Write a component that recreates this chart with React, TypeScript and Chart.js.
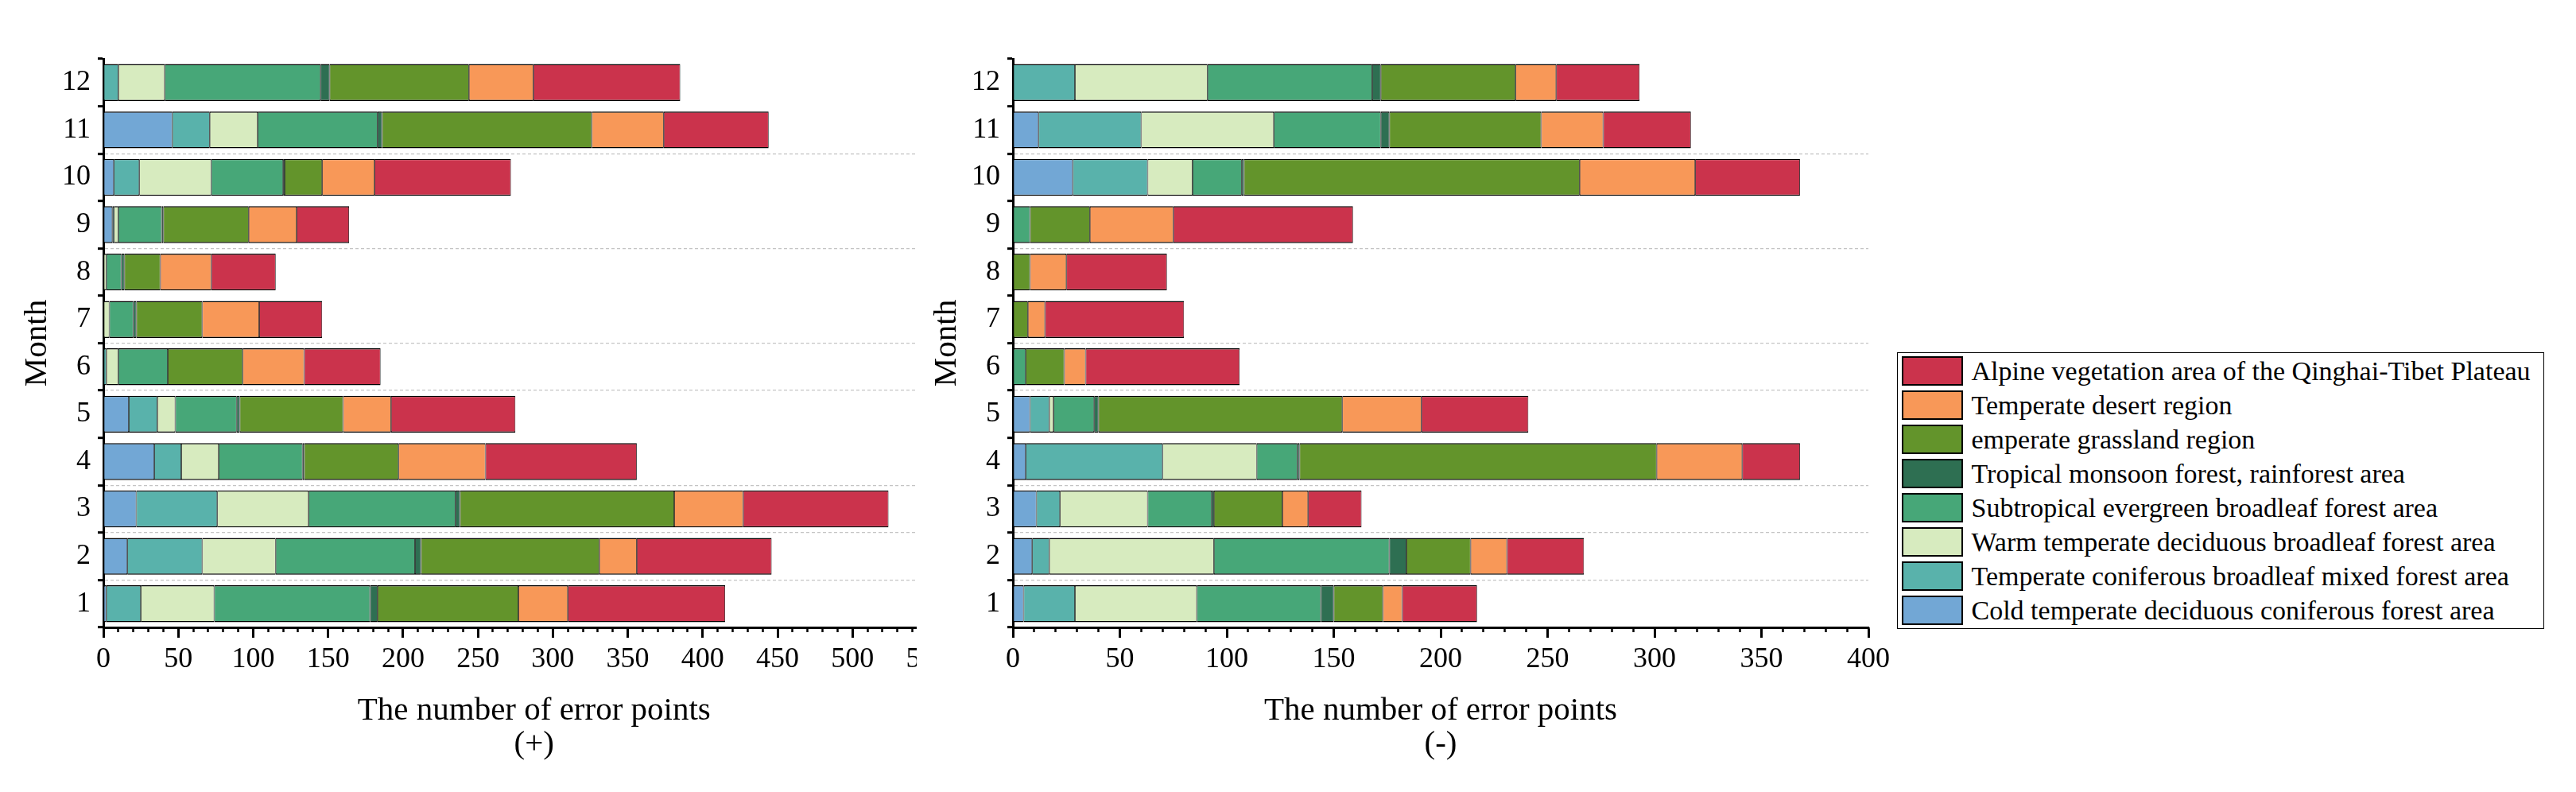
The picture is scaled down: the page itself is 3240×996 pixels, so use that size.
import React, { useEffect, useRef } from 'react';
import { Chart, registerables } from 'chart.js';

Chart.register(...registerables);

// ---------- data ----------
const months = ['1', '2', '3', '4', '5', '6', '7', '8', '9', '10', '11', '12'];

// stacking order (left to right in each bar)
const seriesLabels = [
  'Cold temperate deciduous coniferous forest area',
  'Temperate coniferous broadleaf mixed forest area',
  'Warm temperate deciduous broadleaf forest area',
  'Subtropical evergreen broadleaf forest area',
  'Tropical monsoon forest, rainforest area',
  'emperate grassland region',
  'Temperate desert region',
  'Alpine vegetation area of the Qinghai-Tibet Plateau',
];
const seriesColors = ['#72A7D5', '#59B2AB', '#D7EBBF', '#47A778', '#2E6F52', '#63942B', '#F89858', '#CB334C'];

// (+) error points, months 1..12
const plusCold = [2, 16, 22, 34, 17, 0, 0, 0, 6, 7, 46, 0];
const plusConifMixed = [23, 50, 54, 18, 19, 2, 0, 0, 1, 17, 25, 10];
const plusWarmBroadleaf = [49, 49, 61, 25, 12, 8, 4, 2, 3, 48, 32, 31];
const plusSubtropical = [104, 93, 98, 56, 41, 33, 16, 10, 29, 48, 80, 104];
const plusTropical = [5, 4, 3, 1, 2, 0, 2, 2, 1, 1, 3, 6];
const plusGrassland = [94, 119, 143, 63, 69, 50, 44, 24, 57, 25, 140, 93];
const plusDesert = [33, 25, 46, 58, 32, 41, 38, 34, 32, 35, 48, 43];
const plusAlpine = [105, 90, 97, 101, 83, 51, 42, 43, 35, 91, 70, 98];

// (-) error points, months 1..12
const minusCold = [5, 9, 11, 6, 8, 0, 0, 0, 0, 28, 12, 0];
const minusConifMixed = [24, 8, 11, 64, 9, 0, 0, 0, 0, 35, 48, 29];
const minusWarmBroadleaf = [57, 77, 41, 44, 2, 0, 0, 0, 0, 21, 62, 62];
const minusSubtropical = [58, 82, 30, 19, 19, 6, 0, 0, 8, 23, 50, 77];
const minusTropical = [6, 8, 1, 1, 2, 0, 0, 0, 0, 1, 4, 4];
const minusGrassland = [23, 30, 32, 167, 114, 18, 7, 8, 28, 157, 71, 63];
const minusDesert = [9, 17, 12, 40, 37, 10, 8, 17, 39, 54, 29, 19];
const minusAlpine = [35, 36, 25, 27, 50, 72, 65, 47, 84, 49, 41, 39];

const plusSeries = [plusCold, plusConifMixed, plusWarmBroadleaf, plusSubtropical, plusTropical, plusGrassland, plusDesert, plusAlpine];
const minusSeries = [minusCold, minusConifMixed, minusWarmBroadleaf, minusSubtropical, minusTropical, minusGrassland, minusDesert, minusAlpine];

const xMaxPlus = 575;
const xMaxMinus = 400;
const xMajorStep = 50;
const xMinorStep = 10;
const xTitle = 'The number of error points';
const yTitle = 'Month';
// grid line indices (category boundaries) that show a dashed line
const visibleGridLines = [1, 2, 3, 5, 6, 8, 10];

const FONT = "'Liberation Serif', 'Times New Roman', serif";

function makeConfig(series: number[][], xMax: number, subTitle: string, padRight: number): any {
  return {
    type: 'bar',
    data: {
      labels: months,
      datasets: series.map((data, i) => ({
        label: seriesLabels[i],
        data,
        backgroundColor: seriesColors[i],
        borderColor: '#000',
        borderWidth: { top: 1.5, bottom: 1.5, left: 0.8, right: 0.8 },
        borderSkipped: false,
        barPercentage: 0.78,
        categoryPercentage: 1,
        xAxisID: 'x',
        yAxisID: 'y',
      })),
    },
    options: {
      indexAxis: 'y',
      responsive: false,
      animation: false,
      layout: { padding: { left: 0, top: 74, right: padRight, bottom: 0 } },
      plugins: { legend: { display: false }, tooltip: { enabled: false } },
      scales: {
        x: {
          type: 'linear',
          position: 'bottom',
          stacked: true,
          min: 0,
          max: xMax,
          weight: 1,
          border: { display: true, color: '#000', width: 3 },
          grid: { drawOnChartArea: false, drawTicks: true, tickLength: 13, tickWidth: 3, tickColor: '#000' },
          ticks: {
            stepSize: xMajorStep,
            autoSkip: false,
            includeBounds: false,
            padding: 6,
            maxRotation: 0,
            color: '#000',
            font: { family: FONT, size: 36 },
          },
          title: {
            display: true,
            text: [xTitle, subTitle],
            color: '#000',
            font: { family: FONT, size: 41, lineHeight: 1.04 },
            padding: { top: 0, bottom: 38 },
          },
          afterFit: (s: any) => { s.height = 207; },
        },
        xm: {
          type: 'linear',
          axis: 'x',
          position: 'bottom',
          min: 0,
          max: xMax,
          weight: 0,
          border: { display: false },
          grid: { drawOnChartArea: false, drawTicks: true, tickLength: 6, tickWidth: 2.5, tickColor: '#000' },
          ticks: { display: false, stepSize: xMinorStep, autoSkip: false, includeBounds: false },
          afterFit: (s: any) => { s.height = 0; },
        },
        y: {
          type: 'category',
          stacked: true,
          reverse: true,
          offset: true,
          border: { display: true, color: '#000', width: 3, dash: [4, 3] },
          grid: {
            offset: true,
            color: (c: any) => (visibleGridLines.includes(c.index) ? '#c4c4c4' : 'rgba(0,0,0,0)'),
            lineWidth: 1.3,
            drawTicks: true,
            tickLength: 7,
            tickWidth: 3,
            tickColor: '#000',
            tickBorderDash: [],
          },
          ticks: { autoSkip: false, padding: 9, color: '#000', font: { family: FONT, size: 36 } },
          title: {
            display: true,
            text: yTitle,
            color: '#000',
            font: { family: FONT, size: 41, lineHeight: 1.2 },
            padding: { top: 23, bottom: 0 },
          },
          afterFit: (s: any) => { s.width = 130; },
        },
      },
    },
  };
}

function Legend() {
  const order = seriesLabels.map((l, i) => i).reverse();
  return (
    <div
      style={{
        position: 'absolute',
        left: 2386,
        top: 443,
        width: 814,
        height: 348,
        border: '1.5px solid #000',
        boxSizing: 'border-box',
        background: '#fff',
        fontFamily: FONT,
        zIndex: 2,
      }}
    >
      {order.map((idx, row) => (
        <div
          key={idx}
          style={{
            position: 'absolute',
            left: 4.5,
            top: 4.2 + row * 42.94,
            height: 37,
            display: 'flex',
            alignItems: 'center',
            whiteSpace: 'nowrap',
          }}
        >
          <div
            style={{
              width: 77,
              height: 37,
              boxSizing: 'border-box',
              border: '2px solid #000',
              background: seriesColors[idx],
              flex: '0 0 auto',
            }}
          />
          <span style={{ marginLeft: 11, fontSize: 34, lineHeight: '37px', color: '#000' }}>{seriesLabels[idx]}</span>
        </div>
      ))}
    </div>
  );
}

export default function App() {
  const leftRef = useRef<HTMLCanvasElement>(null);
  const rightRef = useRef<HTMLCanvasElement>(null);

  useEffect(() => {
    Chart.defaults.font.family = FONT;
    Chart.defaults.color = '#000';
    const a = new Chart(leftRef.current as HTMLCanvasElement, makeConfig(plusSeries, xMaxPlus, '(+)', 86.4));
    const b = new Chart(rightRef.current as HTMLCanvasElement, makeConfig(minusSeries, xMaxMinus, '(-)', 94));
    return () => {
      a.destroy();
      b.destroy();
    };
  }, []);

  return (
    <div style={{ position: 'fixed', left: 0, top: 0, width: 3240, height: 996, background: '#fff', overflow: 'hidden' }}>
      <div style={{ position: 'absolute', left: 0, top: 0, width: 1153, height: 996, overflow: 'hidden' }}>
        <canvas ref={leftRef} width={1300} height={996} style={{ display: 'block', width: 1300, height: 996 }} />
      </div>
      <canvas
        ref={rightRef}
        width={1300}
        height={996}
        style={{ position: 'absolute', left: 1144, top: 0, width: 1300, height: 996, zIndex: 1 }}
      />
      <Legend />
    </div>
  );
}
